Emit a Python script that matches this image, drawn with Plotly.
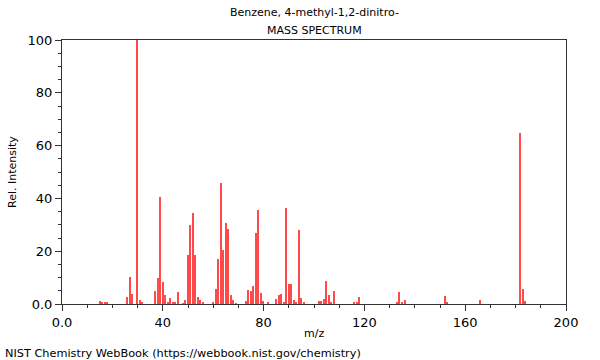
import plotly.graph_objects as go

mz = [15, 16, 17, 18, 26, 27, 28, 30, 31, 32, 37, 38, 39, 40, 41, 42, 43, 44, 45, 46,
      48, 49, 50, 51, 52, 53, 54, 55, 56, 60, 61, 62, 63, 64, 65, 66, 67, 68, 69,
      73, 74, 75, 76, 77, 78, 79, 80, 82, 85, 86, 87, 88, 89, 90, 91, 92, 93, 94, 95, 96,
      102, 103, 104, 105, 106, 107, 108, 116, 117, 118, 133, 134, 135, 136, 152, 153,
      166, 182, 183, 184]
intensity = [1.1, 0.6, 0.6, 0.6, 2.7, 10.2, 3.8, 100, 1.5, 0.8, 4.9, 9.8, 40.5, 8.5, 3.4, 0.8, 2.3, 0.9, 0.5, 4.4,
             0.3, 1.6, 18.6, 29.8, 34.3, 18.6, 2.7, 1.6, 0.7, 0.6, 5.7, 17.0, 45.8, 20.6, 30.8, 28.4, 3.3, 1.6, 0.3,
             1.0, 5.3, 4.9, 6.8, 26.8, 35.6, 4.2, 1.1, 0.8, 1.9, 3.4, 3.8, 0.6, 36.5, 7.4, 7.4, 1.4, 0.6, 28.2, 2.4, 0.6,
             1.1, 1.1, 1.9, 8.7, 3.4, 0.9, 4.9, 0.7, 0.7, 2.5, 0.6, 4.5, 0.7, 1.5, 3.2, 0.4,
             1.5, 64.9, 5.7, 1.1]

x_tickvals = [0, 40, 80, 120, 160, 200]
x_ticktext = ["0.0", "40", "80", "120", "160", "200"]
y_tickvals = [0, 20, 40, 60, 80, 100]
y_ticktext = ["0.0", "20", "40", "60", "80", "100"]

title_line1 = "Benzene, 4-methyl-1,2-dinitro-"
title_line2 = "MASS SPECTRUM"
x_title = "m/z"
y_title = "Rel. Intensity"
footer = "NIST Chemistry WebBook (https://webbook.nist.gov/chemistry)"

FONT = "DejaVu Sans"
AX = "#333333"

fig = go.Figure()
fig.add_trace(go.Bar(x=mz, y=intensity, width=0.55,
                     marker=dict(color="#ff4a4a", line=dict(width=0)),
                     hoverinfo="x+y"))

fig.update_layout(
    width=600, height=360,
    margin=dict(l=62, r=34, t=40, b=56),
    paper_bgcolor="white", plot_bgcolor="white",
    showlegend=False,
    font=dict(family=FONT, size=12, color="black"),
    bargap=0,
)
fig.update_xaxes(
    range=[0, 200], tickmode="array", tickvals=x_tickvals, ticktext=x_ticktext,
    showgrid=False, zeroline=False, showline=True, linecolor=AX, linewidth=1, mirror=True,
    ticks="outside", ticklen=6, tickcolor=AX, tickfont=dict(size=13),
    minor=dict(dtick=10, tick0=0, ticks="outside", ticklen=3, tickcolor=AX, showgrid=False),
)
fig.update_yaxes(
    range=[0, 100], tickmode="array", tickvals=y_tickvals, ticktext=y_ticktext,
    showgrid=False, zeroline=False, showline=True, linecolor=AX, linewidth=1, mirror=True,
    ticks="outside", ticklen=6, tickcolor=AX, tickfont=dict(size=13),
    minor=dict(dtick=5, tick0=0, ticks="outside", ticklen=3, tickcolor=AX, showgrid=False),
)

ann = dict(xref="paper", yref="paper", showarrow=False)
f11 = dict(family=FONT, size=11, color="black")
fig.add_annotation(text=title_line1, x=0.5, y=(304 - 13) / 264, xanchor="center", yanchor="middle", font=f11, **ann)
fig.add_annotation(text=title_line2, x=0.5, y=(304 - 30) / 264, xanchor="center", yanchor="middle", font=f11, **ann)
fig.add_annotation(text=x_title, x=0.5, y=(304 - 333) / 264, xanchor="center", yanchor="middle", font=f11, **ann)
fig.add_annotation(text=y_title, x=(12 - 62) / 504, y=0.5, xanchor="center", yanchor="middle", textangle=-90, font=f11, **ann)
fig.add_annotation(text=footer, x=(3 - 62) / 504, y=(304 - 353) / 264, xanchor="left", yanchor="middle",
                   font=dict(family=FONT, size=11.3, color="black"), **ann)

fig.write_html("out.html", config={"displayModeBar": False},
               post_script="document.body.style.margin='0';document.body.style.padding='0';")
